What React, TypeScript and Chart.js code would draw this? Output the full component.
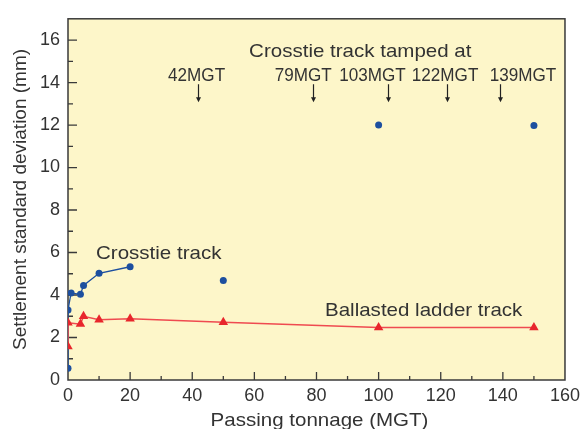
import React, { useEffect, useRef } from "react";
import { Chart, registerables } from "chart.js";

Chart.register(...registerables);

// ---- data ----
const crosstieLineX = [0, 0, 1, 4, 5, 10, 20];
const crosstieLineY = [0.55, 3.3, 4.1, 4.03, 4.45, 5.02, 5.33];
const crosstieLaterX = [50, 100, 150];
const crosstieLaterY = [4.68, 12.0, 11.98];
const ladderX = [0, 0, 4, 5, 10, 20, 50, 100, 150];
const ladderY = [1.58, 2.7, 2.63, 3.0, 2.84, 2.88, 2.72, 2.47, 2.47];
const xTicks = [0, 20, 40, 60, 80, 100, 120, 140, 160];
const yTicks = [0, 2, 4, 6, 8, 10, 12, 14, 16];
const tampedMGT = [42, 79, 103, 122, 139];
const tampedLabels = ["42MGT", "79MGT", "103MGT", "122MGT", "139MGT"];
const tampedLabelX = [41.4, 75.7, 98, 121.4, 146.5];

const FONT = '"Liberation Sans", Arial, Helvetica, sans-serif';
const TEXT = "#333333";
const BLUE = "#1d4f9f";
const RED = "#e8262c";

function pts(xs: number[], ys: number[]) {
  return xs.map((x, i) => ({ x, y: ys[i] }));
}

function txt(ctx: CanvasRenderingContext2D, s: string, x: number, y: number, size: number, sx: number) {
  ctx.save();
  ctx.translate(x, y);
  ctx.scale(sx, 1);
  ctx.font = `${size}px ${FONT}`;
  ctx.fillStyle = TEXT;
  ctx.textAlign = "center";
  ctx.textBaseline = "middle";
  ctx.fillText(s, 0, 0);
  ctx.restore();
}

const decor = {
  id: "decor",
  beforeDraw(chart: any) {
    const { ctx, chartArea: a } = chart;
    ctx.save();
    ctx.fillStyle = "#fdf6c9";
    ctx.fillRect(a.left, a.top, a.right - a.left, a.bottom - a.top);
    ctx.restore();
  },
  beforeDatasetsDraw(chart: any) {
    const { ctx, chartArea: a, scales } = chart;
    const xs = scales.x, ys = scales.y;
    ctx.save();
    ctx.strokeStyle = "#3a3a3a";
    ctx.lineWidth = 1.5;
    ctx.strokeRect(a.left, a.top, a.right - a.left, a.bottom - a.top);
    ctx.lineWidth = 1.3;
    ctx.beginPath();
    for (let v = 10; v < 160; v += 10) {
      const px = xs.getPixelForValue(v);
      const len = v % 20 === 0 ? 8 : 4;
      ctx.moveTo(px, a.bottom);
      ctx.lineTo(px, a.bottom - len);
    }
    for (let v = 1; v < 17; v += 1) {
      const py = ys.getPixelForValue(v);
      const len = v % 2 === 0 ? 9 : 5;
      ctx.moveTo(a.left, py);
      ctx.lineTo(a.left + len, py);
    }
    ctx.stroke();
    ctx.restore();
  },
  afterDraw(chart: any) {
    const { ctx, chartArea: a, scales } = chart;
    const xs = scales.x, ys = scales.y;
    // annotations
    txt(ctx, "Crosstie track tamped at", xs.getPixelForValue(94.1), ys.getPixelForValue(15.45), 19, 1.08);
    const labelY = ys.getPixelForValue(14.33);
    tampedLabels.forEach((l, i) => {
      txt(ctx, l, xs.getPixelForValue(tampedLabelX[i]), labelY, 19, 0.9);
    });
    ctx.save();
    ctx.strokeStyle = "#222";
    ctx.fillStyle = "#222";
    ctx.lineWidth = 1.2;
    const y0 = ys.getPixelForValue(13.92);
    const y1 = ys.getPixelForValue(13.07);
    tampedMGT.forEach((m) => {
      const px = Math.round(xs.getPixelForValue(m)) + 0.5;
      ctx.beginPath();
      ctx.moveTo(px, y0);
      ctx.lineTo(px, y1 - 4);
      ctx.stroke();
      ctx.beginPath();
      ctx.moveTo(px - 2.5, y1 - 5);
      ctx.lineTo(px + 2.5, y1 - 5);
      ctx.lineTo(px, y1);
      ctx.closePath();
      ctx.fill();
    });
    ctx.restore();
    txt(ctx, "Crosstie track", xs.getPixelForValue(29.2), ys.getPixelForValue(5.95), 19, 1.08);
    txt(ctx, "Ballasted ladder track", xs.getPixelForValue(114.5), ys.getPixelForValue(3.25), 19, 1.08);
    // axis titles
    txt(ctx, "Passing tonnage (MGT)", (a.left + a.right) / 2 + 3, 421, 19, 1.08);
    ctx.save();
    ctx.translate(21, (a.top + a.bottom) / 2);
    ctx.rotate(-Math.PI / 2);
    ctx.font = `19px ${FONT}`;
    ctx.fillStyle = TEXT;
    ctx.textAlign = "center";
    ctx.textBaseline = "middle";
    ctx.fillText("Settlement standard deviation (mm)", 0, 0);
    ctx.restore();
  },
};

export default function App() {
  const ref = useRef<HTMLCanvasElement>(null);
  useEffect(() => {
    if (!ref.current) return;
    const chart = new Chart(ref.current, {
      type: "scatter",
      data: {
        datasets: [
          {
            data: pts(ladderX, ladderY),
            showLine: true,
            borderColor: "#ef4a50",
            borderWidth: 1.5,
            pointStyle: "triangle",
            pointRadius: 5.5,
            pointBackgroundColor: RED,
            pointBorderColor: RED,
            pointBorderWidth: 0,
          },
          {
            data: pts(crosstieLineX, crosstieLineY),
            showLine: true,
            borderColor: BLUE,
            borderWidth: 1.3,
            pointStyle: "circle",
            pointRadius: 3.5,
            pointBackgroundColor: BLUE,
            pointBorderColor: BLUE,
            pointBorderWidth: 0,
          },
          {
            data: pts(crosstieLaterX, crosstieLaterY),
            showLine: false,
            pointStyle: "circle",
            pointRadius: 3.5,
            pointBackgroundColor: BLUE,
            pointBorderColor: BLUE,
            pointBorderWidth: 0,
          },
        ],
      },
      options: {
        animation: false,
        responsive: false,
        layout: { padding: { top: 13, right: 18, left: 0, bottom: 0 } },
        plugins: { legend: { display: false }, tooltip: { enabled: false } },
        scales: {
          x: {
            type: "linear",
            min: 0,
            max: 160,
            afterBuildTicks: (s: any) => {
              s.ticks = xTicks.map((v) => ({ value: v }));
            },
            afterFit: (s: any) => {
              s.height = 49;
            },
            grid: { display: false, drawTicks: false },
            border: { display: false },
            ticks: { font: { family: FONT, size: 18 }, color: TEXT, padding: 5, maxRotation: 0 },
          },
          y: {
            type: "linear",
            min: 0,
            max: 17,
            afterBuildTicks: (s: any) => {
              s.ticks = yTicks.map((v) => ({ value: v }));
            },
            afterFit: (s: any) => {
              s.width = 68;
            },
            grid: { display: false, drawTicks: false },
            border: { display: false },
            ticks: { font: { family: FONT, size: 18 }, color: TEXT, padding: 8 },
          },
        },
      },
      plugins: [decor],
    } as any);
    return () => chart.destroy();
  }, []);
  return (
    <div style={{ position: "fixed", left: 0, top: 0, width: 585, height: 429, background: "#fff" }}>
      <canvas ref={ref} width={585} height={429} />
    </div>
  );
}
